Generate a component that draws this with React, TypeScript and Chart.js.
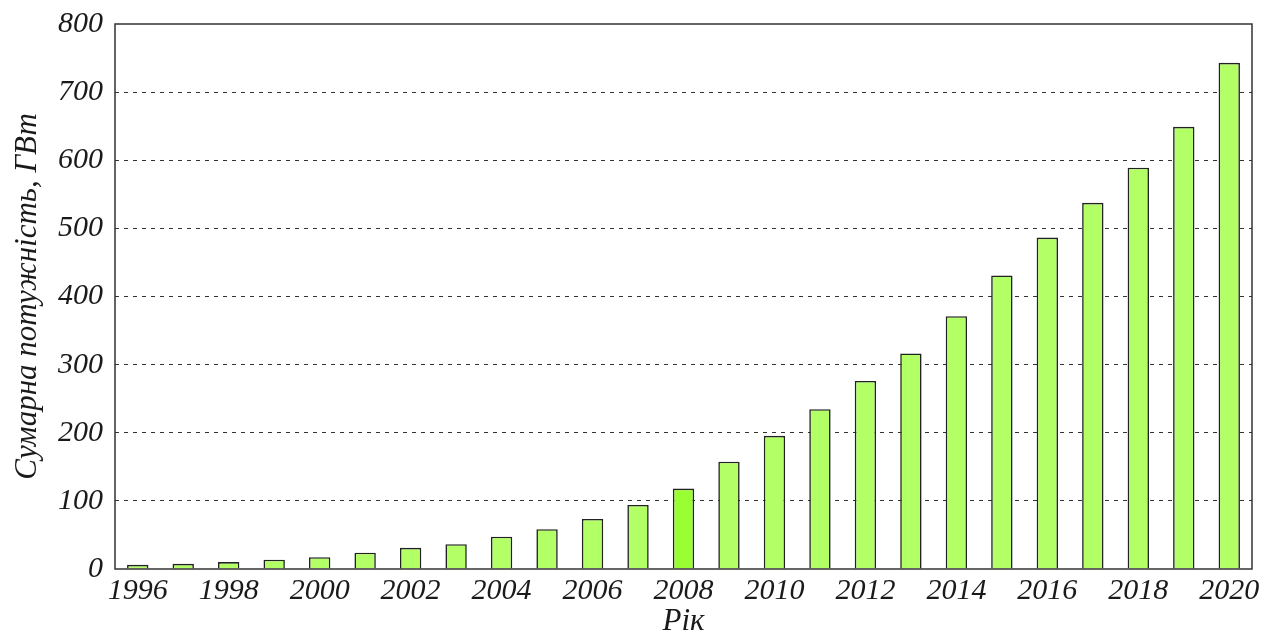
import React, { useEffect, useRef } from "react";
import { Chart, registerables } from "chart.js";

Chart.register(...registerables);

// Installed wind power capacity by year, GW
const years: string[] = [
  "1996", "1997", "1998", "1999", "2000", "2001", "2002", "2003", "2004",
  "2005", "2006", "2007", "2008", "2009", "2010", "2011", "2012", "2013",
  "2014", "2015", "2016", "2017", "2018", "2019", "2020",
];
const capacityGW: number[] = [
  6.1, 7.6, 10.2, 13.6, 17.4, 23.9, 31.1, 36.5, 47.4, 58.5, 73.5, 94.0,
  118.0, 157.5, 195.5, 234.5, 276.0, 316.5, 371.0, 431.0, 486.5, 537.5,
  589.0, 649.0, 743.0,
];
const highlightYear = "2008";

const yTicks: number[] = [0, 100, 200, 300, 400, 500, 600, 700, 800];

const FONT_FAMILY = "'Liberation Serif', 'Times New Roman', serif";
const BAR_COLOR = "#b3ff66";
const BAR_HIGHLIGHT = "#99ff33";
const INK = "#1a1a1a";

const framePlugin = {
  id: "frame",
  afterDraw(chart: Chart) {
    const { ctx, chartArea } = chart;
    ctx.save();
    ctx.strokeStyle = "#333333";
    ctx.lineWidth = 1.5;
    ctx.setLineDash([]);
    ctx.strokeRect(chartArea.left, chartArea.top, chartArea.right - chartArea.left, chartArea.bottom - chartArea.top);
    ctx.restore();
  },
};

export default function App() {
  const canvasRef = useRef<HTMLCanvasElement | null>(null);

  useEffect(() => {
    if (!canvasRef.current) return;
    const chart = new Chart(canvasRef.current, {
      type: "bar",
      data: {
        labels: years,
        datasets: [
          {
            data: capacityGW,
            backgroundColor: years.map((y) => (y === highlightYear ? BAR_HIGHLIGHT : BAR_COLOR)),
            borderColor: "#222222",
            borderWidth: 1.6,
            borderSkipped: "bottom",
            barPercentage: 0.47,
            categoryPercentage: 1,
          },
        ],
      },
      options: {
        responsive: true,
        maintainAspectRatio: false,
        animation: false,
        layout: { padding: { top: 24, right: 10, left: 0, bottom: 0 } },
        plugins: {
          legend: { display: false },
          tooltip: { enabled: false },
        },
        scales: {
          x: {
            grid: { display: false, drawTicks: false },
            border: { display: false },
            ticks: {
              autoSkip: false,
              maxRotation: 0,
              minRotation: 0,
              padding: 4,
              color: INK,
              font: { family: FONT_FAMILY, size: 30, style: "italic" },
              callback: (_v: any, i: number) => (i % 2 === 0 ? years[i] : ""),
            },
            title: {
              display: true,
              text: "Рік",
              color: INK,
              font: { family: FONT_FAMILY, size: 31, style: "italic", lineHeight: 1 },
              padding: { top: 0, bottom: 0 },
            },
            afterFit: (scale: any) => {
              scale.height = 68;
              scale.paddingLeft = 0;
              scale.paddingRight = 0;
            },
          },
          y: {
            min: 0,
            max: 800,
            afterBuildTicks: (scale: any) => {
              scale.ticks = yTicks.map((v) => ({ value: v }));
            },
            grid: {
              drawTicks: false,
              lineWidth: 1,
              color: (ctx: any) =>
                ctx.tick && (ctx.tick.value === 0 || ctx.tick.value === 800) ? "rgba(0,0,0,0)" : "#333333",
            },
            border: { display: false, dash: [4, 5] },
            ticks: {
              padding: 12,
              color: INK,
              font: { family: FONT_FAMILY, size: 30, style: "italic" },
            },
            title: {
              display: true,
              text: "Сумарна потужність, ГВт",
              color: INK,
              font: { family: FONT_FAMILY, size: 31, style: "italic", lineHeight: 1 },
              padding: { top: 12, bottom: 0 },
            },
            afterFit: (scale: any) => {
              scale.width = 115;
              scale.paddingTop = 0;
              scale.paddingBottom = 0;
            },
          },
        },
      },
      plugins: [framePlugin],
    });
    return () => chart.destroy();
  }, []);

  return (
    <div style={{ position: "fixed", left: 0, top: 0, width: 1262, height: 637, background: "#ffffff" }}>
      <canvas ref={canvasRef} />
    </div>
  );
}
